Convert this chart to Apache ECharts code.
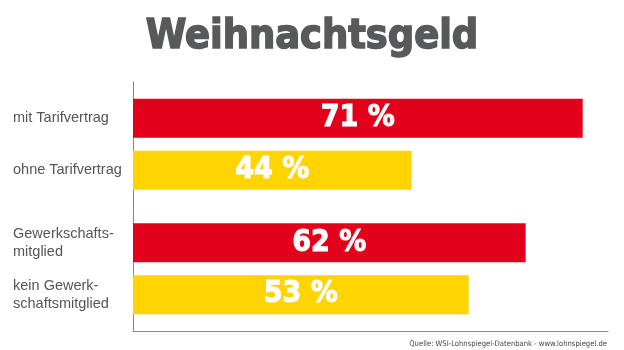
<!DOCTYPE html>
<html>
<head>
<meta charset="utf-8">
<script src="https://cdn.jsdelivr.net/npm/echarts@6/dist/echarts.min.js"></script>
<style>
  html, body { margin: 0; padding: 0; background: #fff; }
  #chart { width: 624px; height: 350px; }
</style>
</head>
<body>
<div id="chart"></div>
<script>
// Gruppen (je zwei Balken)
const groups = ["Tarif", "Gewerkschaft"];
// rote Balken
const redNames = ["mit Tarifvertrag", "Gewerkschafts-\nmitglied"];
const redValues = [71, 62];
// gelbe Balken
const yellowNames = ["ohne Tarifvertrag", "kein Gewerk-\nschaftsmitglied"];
const yellowValues = [44, 53];

const RED = "#e2001a";
const YELLOW = "#ffd400";

const chart = echarts.init(document.getElementById("chart"));

const valueLabel = {
  show: true,
  position: "inside",
  formatter: "{c} %",
  color: "#fff",
  fontFamily: "DejaVu Sans Condensed",
  fontWeight: "bold",
  fontSize: 30,
  textBorderColor: "#fff",
  textBorderWidth: 1
};

function nameLabel(names) {
  return {
    show: true,
    position: [-120, "50%"],
    align: "left",
    verticalAlign: "middle",
    color: "#555",
    fontFamily: "Liberation Sans",
    fontSize: 14.5,
    lineHeight: 18,
    formatter: (p) => names[p.dataIndex]
  };
}

const barCommon = {
  type: "bar",
  barWidth: 39,
  barGap: "33%",
  silent: true
};

chart.setOption({
  animation: false,
  backgroundColor: "#fff",
  title: [
    {
      text: "Weihnachtsgeld",
      left: "center",
      top: 12,
      textStyle: {
        fontFamily: "DejaVu Sans Condensed",
        fontWeight: "bold",
        fontSize: 41,
        color: "#58595b",
        textBorderColor: "#58595b",
        textBorderWidth: 1.5
      }
    },
    {
      text: "Quelle: WSI-Lohnspiegel-Datenbank - www.lohnspiegel.de",
      right: 17,
      bottom: 2,
      padding: 0,
      textStyle: {
        fontFamily: "DejaVu Sans Condensed",
        fontWeight: "normal",
        fontSize: 7.6,
        color: "#444"
      }
    }
  ],
  grid: { left: 133, right: 16, top: 82, bottom: 19 },
  xAxis: {
    type: "value",
    min: 0,
    max: 75,
    axisLine: { show: true, lineStyle: { color: "#888", width: 1 } },
    axisTick: { show: false },
    axisLabel: { show: false },
    splitLine: { show: false }
  },
  yAxis: [
    {
      type: "category",
      data: groups,
      inverse: true,
      axisLine: { show: true, lineStyle: { color: "#888", width: 1 } },
      axisTick: { show: false },
      axisLabel: { show: false }
    },
    {
      type: "category",
      data: groups,
      inverse: true,
      show: false
    }
  ],
  series: [
    Object.assign({}, barCommon, {
      data: redValues,
      itemStyle: { color: RED },
      label: valueLabel
    }),
    Object.assign({}, barCommon, {
      data: yellowValues,
      itemStyle: { color: YELLOW },
      label: valueLabel
    }),
    // unsichtbare Kopien nur für die Beschriftung links
    Object.assign({}, barCommon, {
      yAxisIndex: 1,
      data: redValues,
      itemStyle: { color: "rgba(0,0,0,0)" },
      label: nameLabel(redNames)
    }),
    Object.assign({}, barCommon, {
      yAxisIndex: 1,
      data: yellowValues,
      itemStyle: { color: "rgba(0,0,0,0)" },
      label: nameLabel(yellowNames)
    })
  ]
});
</script>
</body>
</html>
